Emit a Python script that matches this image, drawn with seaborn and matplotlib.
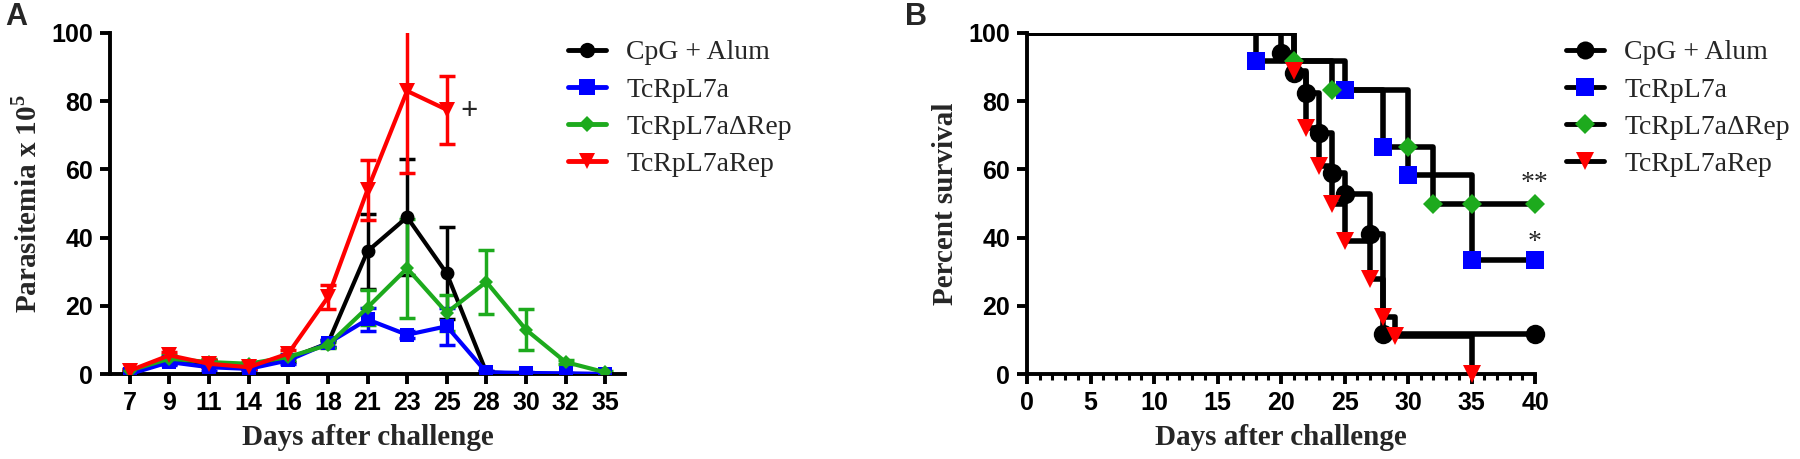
import numpy as np
import pandas as pd
import seaborn as sns
import matplotlib.pyplot as plt
from matplotlib.lines import Line2D

# ---- dados painel A (parasitemia, media +- erro) ----
days_a = ['7', '9', '11', '14', '16', '18', '21', '23', '25', '28', '30', '32', '35']

cpg_mean = [0.5, 4, 3, 2, 4.5, 9, 36, 46, 29.5, 0.5, 0, 0, 0]
cpg_err = [0.5, 1, 1, 0.5, 1, 1, 11, 17, 13.5, 0.5, 0, 0, 0]

l7a_mean = [0, 3.5, 2, 1.5, 4, 9, 16, 11.5, 14, 0.5, 0.3, 0.2, 0]
l7a_err = [0.5, 1, 1, 0.5, 1, 1, 3.5, 1, 5.5, 0.5, 0.3, 0.2, 0]

drep_mean = [1, 4.5, 3.5, 3, 5, 8.5, 19.5, 31, 18, 27, 13, 3.5, 0.5]
drep_err = [0.5, 1, 1, 0.5, 1, 1, 5, 14.5, 5.3, 9.5, 6, 0.5, 0.3]

rep_mean = [1, 5.5, 3, 2, 6, 22.5, 54, 83, 77.5]
rep_err = [0.5, 1, 1, 0.5, 1, 3.5, 8.7, 24, 10]

groups = ['CpG + Alum', 'TcRpL7a', 'TcRpL7a\u0394Rep', 'TcRpL7aRep']
colors = {'CpG + Alum': '#000000', 'TcRpL7a': '#0000FF',
          'TcRpL7a\u0394Rep': '#1DAA1D', 'TcRpL7aRep': '#FF0000'}
markers = {'CpG + Alum': 'o', 'TcRpL7a': 's',
           'TcRpL7a\u0394Rep': 'D', 'TcRpL7aRep': 'v'}

# ---- dados painel B (sobrevivencia) ----
cpg_t = [20, 21, 22, 23, 24, 25, 27, 28, 40]
cpg_s = [94.1, 88.2, 82.4, 70.6, 58.8, 52.9, 41.2, 11.8, 11.8]
l7a_t = [18, 25, 28, 30, 35, 40]
l7a_s = [91.7, 83.3, 66.7, 58.3, 33.3, 33.3]
drep_t = [21, 24, 30, 32, 35, 40]
drep_s = [91.7, 83.3, 66.7, 50, 50, 50]
rep_t = [21, 22, 23, 24, 25, 27, 28, 29, 35]
rep_s = [88.9, 72.2, 61.1, 50, 38.9, 27.8, 16.7, 11.1, 0]

sns.set_style('ticks')
plt.rcParams['font.family'] = ['Liberation Sans', 'DejaVu Sans']
plt.rcParams['mathtext.fontset'] = 'custom'
plt.rcParams['mathtext.rm'] = 'Liberation Serif:bold'

fig = plt.figure(figsize=(18, 4.59), dpi=100)
axA = fig.add_axes([110 / 1800, 85 / 459, 515 / 1800, 341 / 459])
axB = fig.add_axes([1027 / 1800, 85 / 459, 508 / 1800, 341 / 459])

serif = ['Liberation Serif', 'DejaVu Serif']

# ---- painel A ----
means = [cpg_mean, l7a_mean, drep_mean, rep_mean]
errs = [cpg_err, l7a_err, drep_err, rep_err]
rows = []
for g, m, e in zip(groups, means, errs):
    for i in range(len(m)):
        rows.append({'pos': i, 'val': m[i], 'err': e[i], 'grupo': g})
dfA = pd.DataFrame(rows)

msA = {'CpG + Alum': 10, 'TcRpL7a': 10, 'TcRpL7a\u0394Rep': 7.5, 'TcRpL7aRep': 11}
for g in groups:
    d = dfA[dfA['grupo'] == g]
    axA.errorbar(d['pos'], d['val'], yerr=d['err'], fmt='none', ecolor=colors[g],
                 elinewidth=2.5, capsize=6, capthick=2.5, zorder=2)
    sns.lineplot(data=d, x='pos', y='val', color=colors[g], marker=markers[g],
                 markersize=msA[g], markeredgewidth=0,
                 linewidth=3, ax=axA, legend=False, zorder=3)

axA.set_xlim(-0.5, len(days_a) - 0.5)
axA.set_ylim(0, 100)
axA.set_xticks(range(len(days_a)))
axA.set_xticklabels(days_a)
axA.set_yticks([0, 20, 40, 60, 80, 100])
axA.set_xlabel('Days after challenge', family=serif, fontsize=21, fontweight='bold', labelpad=7)
axA.set_ylabel('Parasitemia x 10$^5$', family=serif, fontsize=21, fontweight='bold', labelpad=7)
axA.text(8.35, 77, '+', family=serif, fontsize=22, fontweight='bold', ha='left', va='center')

hA = [Line2D([], [], color=colors[g], marker=markers[g],
             markersize=8.5 if markers[g] == 'D' else 11, markeredgewidth=0, lw=3.5)
      for g in groups]
fig.legend(hA, groups, loc='upper left', bbox_to_anchor=(568 / 1800, 1 - 40 / 459),
           frameon=False, prop={'family': serif, 'size': 20}, handlelength=1.35,
           handletextpad=0.75, labelspacing=0.42, borderpad=0, borderaxespad=0)

# ---- painel B ----
times = [cpg_t, l7a_t, drep_t, rep_t]
survs = [cpg_s, l7a_s, drep_s, rep_s]
msize = {'CpG + Alum': 14, 'TcRpL7a': 13, 'TcRpL7a\u0394Rep': 10, 'TcRpL7aRep': 13}
for g, t, s in zip(groups, times, survs):
    dl = pd.DataFrame({'dia': [0] + t, 'sobrev': [100] + s})
    sns.lineplot(data=dl, x='dia', y='sobrev', color='black', linewidth=4,
                 drawstyle='steps-post', ax=axB, legend=False, zorder=2)
for g, t, s in zip(groups, times, survs):
    dp = pd.DataFrame({'dia': t, 'sobrev': s})
    sns.lineplot(data=dp, x='dia', y='sobrev', color=colors[g], marker=markers[g],
                 markersize=msize[g], markeredgewidth=0, linestyle='none',
                 ax=axB, legend=False, zorder=4, clip_on=False)

axB.set_xlim(0, 40)
axB.set_ylim(0, 100)
axB.set_xticks(range(0, 41, 5))
axB.set_xticks(range(0, 41, 1), minor=True)
axB.set_yticks([0, 20, 40, 60, 80, 100])
axB.set_xlabel('Days after challenge', family=serif, fontsize=21, fontweight='bold', labelpad=7)
axB.set_ylabel('Percent survival', family=serif, fontsize=21, fontweight='bold', labelpad=7)
axB.text(40, 56, '**', family=serif, fontsize=20, ha='center', va='center')
axB.text(40, 38.5, '*', family=serif, fontsize=20, ha='center', va='center')

hB = [Line2D([], [], color='black', marker=markers[g], markerfacecolor=colors[g],
             markersize=10 if markers[g] == 'D' else 13, markeredgewidth=0, lw=3.5)
      for g in groups]
fig.legend(hB, groups, loc='upper left', bbox_to_anchor=(1566 / 1800, 1 - 40 / 459),
           frameon=False, prop={'family': serif, 'size': 20}, handlelength=1.35,
           handletextpad=0.75, labelspacing=0.42, borderpad=0, borderaxespad=0)

for ax in (axA, axB):
    sns.despine(ax=ax)
    for sp in ('left', 'bottom'):
        ax.spines[sp].set_linewidth(2.8)
        ax.spines[sp].set_color('black')
    ax.tick_params(which='major', length=7, width=2.8, pad=5, labelsize=18, colors='black')
    for lab in ax.get_xticklabels() + ax.get_yticklabels():
        lab.set_fontweight('bold')
axB.tick_params(which='minor', length=4, width=2.2, color='black')

fig.text(5 / 1800, 1 - 17 / 459, 'A', fontsize=22, fontweight='bold', va='center')
fig.text(905 / 1800, 1 - 17 / 459, 'B', fontsize=22, fontweight='bold', va='center')

fig.savefig('out.png', dpi=100)
